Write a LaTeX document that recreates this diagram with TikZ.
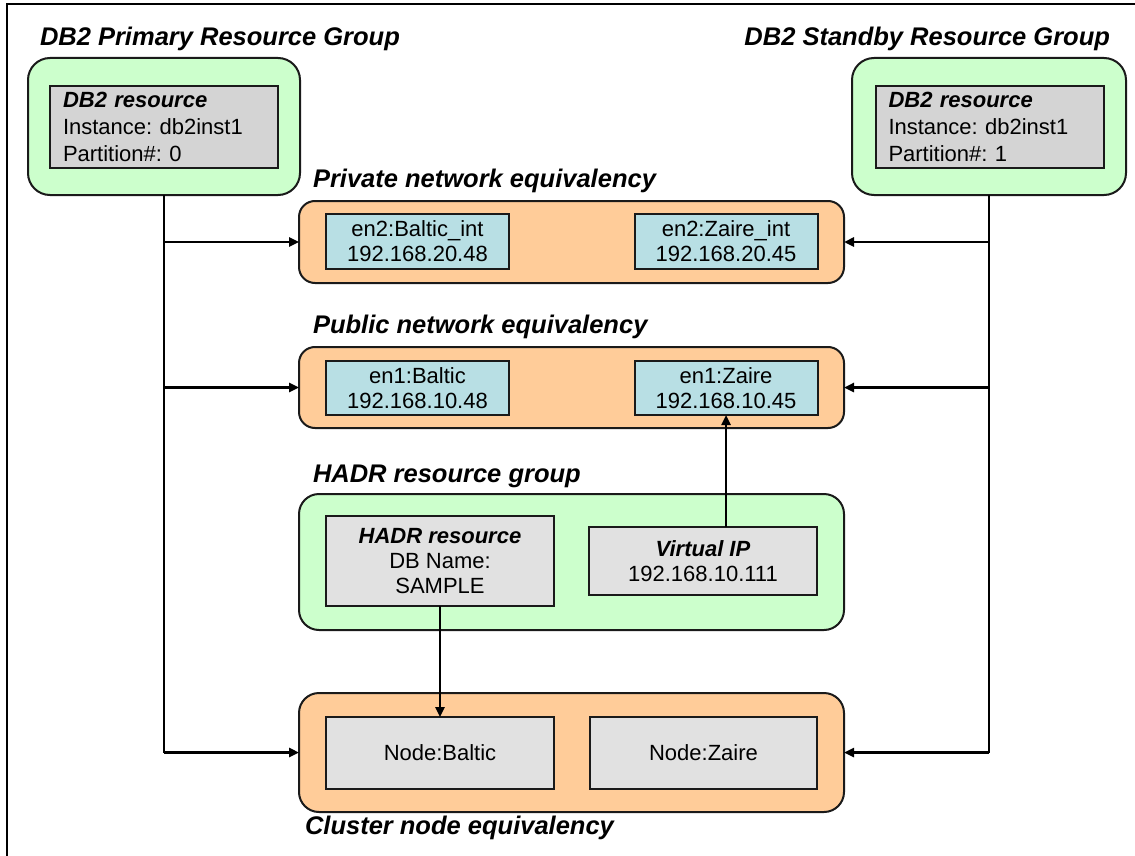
\documentclass[tikz,border=0pt]{standalone}
\usepackage{fontspec}
\setmainfont{Liberation Sans}
\usetikzlibrary{arrows.meta}
\definecolor{grpgreen}{HTML}{CCFFCC}
\definecolor{eqorange}{HTML}{FFCC99}
\definecolor{nicblue}{HTML}{B8DFE4}
\definecolor{resgrey}{HTML}{D4D4D4}
\definecolor{nodegrey}{HTML}{E1E1E1}
\definecolor{edgecol}{HTML}{1A1A1A}
\frenchspacing
\begin{document}
\begin{tikzpicture}[x=1pt,y=-1pt,
 every node/.style={font=\fontsize{22}{25}\selectfont, inner sep=0pt, outer sep=0pt},
 group/.style={draw=edgecol, line width=2pt, fill=grpgreen, rounded corners=22pt},
 equiv/.style={draw=edgecol, line width=2pt, fill=eqorange, rounded corners=16pt},
 nic/.style={draw=edgecol, line width=2pt, fill=nicblue, align=center, minimum width=183pt, minimum height=55pt},
 resbox/.style={draw=edgecol, line width=2pt, fill=resgrey, align=left, text width=202pt, minimum height=82pt, inner xsep=13pt, font=\fontsize{22}{27}\selectfont},
 hbox/.style={draw=edgecol, line width=2pt, fill=nodegrey, align=center},
 grptitle/.style={font=\fontsize{25.5}{30}\selectfont\bfseries\itshape},
 conn/.style={line width=2.4pt, -{Triangle[length=10pt,width=9pt]}},
 trunk/.style={line width=2.4pt}
]
\useasboundingbox (0,0) rectangle (1135,856);
\fill[white] (0,0) rectangle (1135,856);
\draw[line width=2pt] (7,856) -- (7,4) -- (1135,4);

% titles
\node[grptitle, anchor=base west] (tpg) at (40,46) {DB2 Primary Resource Group};
\node[grptitle, anchor=base east] (tsg) at (1110,46) {DB2 Standby Resource Group};
\node[grptitle, anchor=base west] (tpn) at (313,187) {Private network equivalency};
\node[grptitle, anchor=base west] (tun) at (313,333) {Public network equivalency};
\node[grptitle, anchor=base west] (thg) at (313,482) {HADR resource group};
\node[grptitle, anchor=base west] (tcl) at (305,834) {Cluster node equivalency};

% resource groups
\node[group, minimum width=272pt, minimum height=137pt] (pg) at (164,126.5) {};
\node[resbox] (pr) at (164,127) {{\bfseries\itshape DB2 resource}\\Instance: db2inst1\\Partition\#: 0};
\node[group, minimum width=274pt, minimum height=137pt] (sg) at (989,126.5) {};
\node[resbox] (sr) at (989.5,127) {{\bfseries\itshape DB2 resource}\\Instance: db2inst1\\Partition\#: 1};

% private network
\node[equiv, minimum width=545pt, minimum height=82pt] (pn) at (571.5,242) {};
\node[nic] (pnb) at (417.5,241.5) {en2:Baltic\_int\\192.168.20.48};
\node[nic] (pnz) at (726,241.5) {en2:Zaire\_int\\192.168.20.45};

% public network
\node[equiv, minimum width=545pt, minimum height=81pt] (un) at (571.5,387.5) {};
\node[nic, minimum height=54pt] (unb) at (417.5,388) {en1:Baltic\\192.168.10.48};
\node[nic, minimum height=54pt] (unz) at (726,388) {en1:Zaire\\192.168.10.45};

% HADR group
\node[group, rounded corners=20pt, minimum width=545pt, minimum height=136pt] (hg) at (571.5,562) {};
\node[hbox, minimum width=228pt, minimum height=90pt] (hr) at (440,561) {{\bfseries\itshape HADR resource}\\DB Name:\\SAMPLE};
\node[hbox, minimum width=228pt, minimum height=68pt] (vip) at (703,561) {{\bfseries\itshape Virtual IP}\\192.168.10.111};

% cluster nodes
\node[equiv, rounded corners=20pt, minimum width=545pt, minimum height=119pt] (cl) at (571.5,752.5) {};
\node[hbox, minimum width=228pt, minimum height=72pt] (nb) at (440,753) {Node:Baltic};
\node[hbox, minimum width=227pt, minimum height=72pt] (nz) at (703.5,753) {Node:Zaire};

% connectors
\draw[trunk] (pg.south) -- (pg.south |- cl.west);
\draw[conn] (pg.south |- pn.west) -- (pn.west);
\draw[conn] (pg.south |- un.west) -- (un.west);
\draw[conn] (pg.south |- cl.west) -- (cl.west);
\draw[trunk] (sg.south) -- (sg.south |- cl.east);
\draw[conn] (sg.south |- pn.east) -- (pn.east);
\draw[conn] (sg.south |- un.east) -- (un.east);
\draw[conn] (sg.south |- cl.east) -- (cl.east);
\draw[conn] (vip.north -| unz.south) -- (unz.south);
\draw[conn] (hr.south) -- (nb.north);
\end{tikzpicture}
\end{document}
